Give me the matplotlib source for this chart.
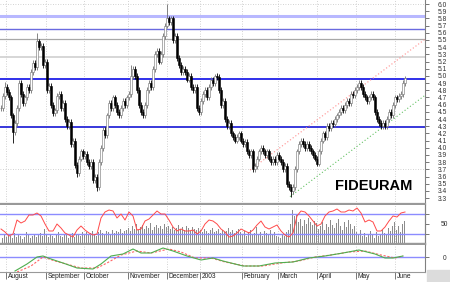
import matplotlib
matplotlib.use("Agg")
import matplotlib.pyplot as plt
from matplotlib.patches import Rectangle
import numpy as np

plt.rcParams['font.family'] = ['Liberation Sans', 'DejaVu Sans']

# daily closes, one per trading bar (late July 2002 -> early June 2003)
closes = [
    4.55, 4.72, 4.85, 4.78, 4.70, 4.45, 4.22, 4.35, 4.55, 4.90,
    4.75, 4.62, 4.70, 4.85, 4.80, 5.05, 5.18, 5.12, 5.48, 5.40,
    5.42, 5.15, 5.20, 4.80, 4.86, 4.60, 4.48, 4.52, 4.72, 4.75,
    4.55, 4.62, 4.40, 4.30, 4.36, 4.05, 4.10, 3.76, 3.65, 3.85,
    3.95, 3.88, 3.92, 3.80, 3.75, 3.80, 3.55, 3.60, 3.45, 3.80,
    4.00, 4.25, 4.18, 4.45, 4.62, 4.55, 4.70, 4.60, 4.50, 4.45,
    4.55, 4.65, 4.60, 4.70, 4.75, 5.00, 5.10, 5.00, 4.80, 4.60,
    4.50, 4.45, 4.60, 4.80, 4.90, 4.85, 5.10, 5.30, 5.35, 5.20,
    5.30, 5.55, 5.70, 5.80, 5.75, 5.80, 5.50, 5.55, 5.25, 5.15,
    5.05, 5.10, 5.05, 4.95, 5.00, 4.85, 4.80, 4.85, 4.55, 4.50,
    4.65, 4.75, 4.80, 4.70, 4.85, 4.95, 4.90, 5.00, 4.98, 4.80,
    4.60, 4.65, 4.40, 4.30, 4.35, 4.20, 4.15, 4.10, 4.15, 4.20,
    4.10, 4.05, 4.08, 3.95, 3.90, 3.95, 3.70, 3.75, 3.85, 3.95,
    4.00, 3.95, 3.90, 3.95, 3.85, 3.80, 3.85, 3.80, 3.90, 3.85,
    3.80, 3.70, 3.75, 3.50, 3.45, 3.40, 3.45, 3.70, 3.95, 4.05,
    4.10, 4.05, 4.00, 4.05, 4.00, 3.95, 3.90, 3.85, 3.78, 3.95,
    4.10, 4.20, 4.15, 4.30, 4.28, 4.35, 4.33, 4.40, 4.45, 4.50,
    4.55, 4.52, 4.60, 4.65, 4.62, 4.75, 4.73, 4.80, 4.85, 4.90,
    4.85, 4.75, 4.70, 4.65, 4.70, 4.75, 4.70, 4.50, 4.40, 4.35,
    4.30, 4.35, 4.30, 4.40, 4.50, 4.45, 4.60, 4.70, 4.68, 4.72,
    4.75, 4.90, 4.97,
]
spike_high = {2: 4.92, 18: 5.60, 65: 5.15, 83: 6.00, 107: 5.03, 202: 5.00}
spike_low = {6: 4.07, 38: 3.60, 48: 3.40, 126: 3.66, 145: 3.32}

volumes = [
    8, 6, 9, 7, 10, 8, 6, 11, 7, 9, 8, 5, 7, 12, 9, 6, 8, 10, 7, 9, 11, 8,
    15, 9, 7, 10, 8, 6, 9, 12, 8, 7, 10, 9, 6, 8, 11, 7, 9, 10, 8, 12,
    10, 12, 9, 11, 13, 10, 8, 12, 14, 11, 9, 13, 12, 10, 14, 11, 13, 12, 15, 11, 13, 14,
    16, 13, 18, 15, 20, 14, 17, 19, 15, 18, 16, 21, 14, 17, 19, 16, 18, 15, 20, 17,
    18, 15, 17, 14, 16, 19, 15, 17, 14, 18, 16, 13, 17, 15, 14, 16,
    14, 12, 15, 13, 11, 14, 16, 12, 13, 15, 11, 14, 12, 13, 16, 12, 14, 11, 13, 15, 12,
    10, 13, 8, 12, 14, 9, 11, 17, 10, 12, 8, 13, 11, 9, 14, 10, 12, 8,
    7, 6, 9, 8, 12, 14, 20, 34, 28, 30, 22, 25, 18, 24, 20, 26, 22, 19, 23, 21,
    15, 18, 22, 14, 20, 17, 24, 19, 16, 21, 25, 18, 14, 22, 17, 24, 20, 15, 18,
    12, 9, 14, 8, 11, 7, 10, 13, 9, 6, 12, 8, 10, 14, 11, 9, 16, 13, 18, 22,
    14, 18, 12, 20, 23,
]

# RSI read every second bar
rsi = [
    40, 34, 26, 30, 58, 52, 56, 68, 68, 72, 66, 50, 36, 36, 50, 42, 32, 28, 24, 38,
    46, 38, 32, 28, 30, 62, 74, 78, 76, 62, 70, 58, 74, 66, 38, 40, 56, 60, 68, 76,
    70, 70, 58, 44, 36, 40, 36, 36, 38, 30, 36, 50, 58, 56, 50, 40, 34, 24, 26, 32,
    40, 36, 32, 38, 48, 56, 44, 40, 44, 48, 36, 28, 24, 32, 66, 76, 74, 66, 56, 46,
    50, 66, 74, 76, 80, 74, 74, 78, 76, 82, 72, 54, 58, 54, 36, 36, 44, 56, 66, 64,
    72, 74,
]

# oscillator (green) and its signal (red dashed)
osc_bars = [7, 13, 18, 21, 25, 31, 38, 46, 50, 55, 61, 66, 70, 75, 81, 86, 93,
            100, 106, 111, 121, 129, 137, 146, 154, 162, 171, 179, 187, 192, 196, 201]
osc = [-0.28, -0.14, 0.0, 0.02, -0.04, -0.12, -0.22, -0.24, -0.14, 0.02, 0.06,
       0.16, 0.08, 0.08, 0.18, 0.12, 0.02, -0.06, -0.02, -0.08, -0.18, -0.18,
       -0.12, -0.10, -0.02, 0.02, 0.08, 0.14, 0.06, -0.02, -0.02, 0.02]
sig_bars = [8, 15, 21, 27, 40, 48, 53, 60, 68, 75, 84, 90, 97, 105, 112, 122,
            131, 140, 149, 157, 165, 174, 182, 190, 197, 201]
sig = [-0.30, -0.18, 0.0, -0.08, -0.22, -0.22, -0.12, 0.04, 0.12, 0.08, 0.16,
       0.10, -0.02, -0.02, -0.10, -0.18, -0.18, -0.12, -0.08, 0.0, 0.04, 0.10,
       0.12, 0.04, -0.02, 0.02]

month_bars = [2.5, 22.5, 41.5, 63.5, 83, 99.5, 120.5, 138.5, 158, 177.5, 197]
month_labels = ['August', 'September', 'October', 'November', 'December', '2003',
                'February', 'March', 'April', 'May', 'June']

levels = [5.83, 5.65, 5.51, 5.26, 4.96, 4.29]
level_colors = ['#b8b8ff', '#6a6ae0', '#a8a8a8', '#cfcfcf', '#2020e8', '#2828d8']
level_widths = [2.2, 1.0, 0.9, 1.2, 1.3, 1.3]

trend_red = ([124.5, 212], [3.69, 5.51])
trend_green = ([144.5, 212], [3.32, 4.73])

W, H = 450, 282
fig = plt.figure(figsize=(W / 100, H / 100), dpi=100)
ax = fig.add_axes([0, 1 - 204 / H, 425 / W, 204 / H])
ax_v = fig.add_axes([0, 1 - 244 / H, 425 / W, 39 / H])
ax_r = ax_v.twinx()
ax_m = fig.add_axes([0, 1 - 272 / H, 425 / W, 27 / H])

x = np.arange(len(closes))
xlim = (-0.5, 212)
grid_kw = dict(color='#c4c4c4', lw=0.6, ls=(0, (1, 2)), zorder=0)

# ---- price panel
for m in month_bars:
    ax.axvline(m, **grid_kw)
for g in [6.0, 3.7]:
    ax.axhline(g, **grid_kw)
for lv, c, w in zip(levels, level_colors, level_widths):
    ax.axhline(lv, color=c, lw=w, zorder=1)
ax.plot(*trend_red, color='#ff8c8c', lw=0.8, ls=(0, (1, 2)), zorder=2)
ax.plot(*trend_green, color='#66c266', lw=0.8, ls=(0, (1, 2)), zorder=2)

opens = [closes[0]] + closes[:-1]
for i, (o, c) in enumerate(zip(opens, closes)):
    hi = spike_high.get(i, max(o, c) + 0.04)
    lo = spike_low.get(i, min(o, c) - 0.04)
    up = c >= o
    col = '#707070' if up else '#000000'
    ax.vlines(i, lo, hi, color=col, lw=0.6, zorder=3)
    ax.bar(i, max(abs(c - o), 0.01), bottom=min(o, c), width=0.9,
           color='white' if up else 'black', edgecolor=col, lw=0.4, zorder=4)

ax.text(186.5, 3.47, 'FIDEURAM', fontsize=10.5, fontweight='bold',
        ha='center', va='center', zorder=5)
ax.set_xlim(*xlim)
ax.set_ylim(3.218, 6.056)
ax.yaxis.tick_right()
ax.set_yticks(np.round(np.arange(3.3, 6.01, 0.1), 1))
ax.set_yticklabels([f'{v:.1f}' for v in np.arange(3.3, 6.01, 0.1)])
ax.set_xticks([])

# ---- RSI + volume panel
for m in month_bars:
    ax_v.axvline(m, **grid_kw)
ax_v.bar(x, volumes, width=0.5, color='#8c8c8c', zorder=1)
ax_v.set_ylim(0, 39)
ax_v.set_xlim(*xlim)
ax_v.set_yticks([])
ax_v.set_xticks([])
ax_r.axhline(70, color='#8c8cff', lw=1)
ax_r.axhline(30, color='#8c8cff', lw=1)
ax_r.plot(x[::2], rsi, color='#ff4a4a', lw=0.7)
ax_r.set_ylim(10, 88)
ax_r.set_yticks([30, 50, 70])
ax_r.set_yticklabels(['', '50', ''])

# ---- oscillator panel
for m in month_bars:
    ax_m.axvline(m, **grid_kw)
ax_m.axhline(0, color='#8c8cff', lw=1)
ax_m.plot(sig_bars, sig, color='#ff6464', lw=0.8, ls=(0, (2, 1.5)))
ax_m.plot(osc_bars, osc, color='#4fae4f', lw=0.8)
ax_m.set_xlim(*xlim)
ax_m.set_ylim(-0.30, 0.24)
ax_m.yaxis.tick_right()
ax_m.set_yticks([0])
ax_m.set_yticklabels(['0'])
ax_m.set_xticks(month_bars)
ax_m.set_xticklabels([])
ax_m.tick_params(axis='x', length=5, width=0.6, color='#606060')
for m, lab in zip(month_bars, month_labels):
    ax_m.annotate(lab, xy=(m, 0), xycoords=('data', 'axes fraction'),
                  xytext=(2, -5), textcoords='offset pixels',
                  ha='left', va='center', fontsize=4.8, color='#202020')

for a in (ax, ax_v, ax_r, ax_m):
    for s in ('left', 'top'):
        a.spines[s].set_visible(False)
    a.spines['right'].set_color('#808080')
    a.spines['right'].set_linewidth(0.8)
    a.spines['bottom'].set_color('#999999')
    a.spines['bottom'].set_linewidth(1.6)
ax_m.spines['bottom'].set_linewidth(0.8)
for a in (ax, ax_r, ax_m):
    a.tick_params(axis='y', length=3, width=0.6, color='#606060',
                  labelsize=4.8, labelcolor='#303030', pad=6)
ax_r.tick_params(axis='y', pad=8.5)
ax_m.tick_params(axis='y', pad=10)

fig.patches.append(Rectangle((427 / W, 0), 23 / W, 12 / H, transform=fig.transFigure,
                             color='#dcdcdc', zorder=0))

fig.savefig('out.png', dpi=100)
